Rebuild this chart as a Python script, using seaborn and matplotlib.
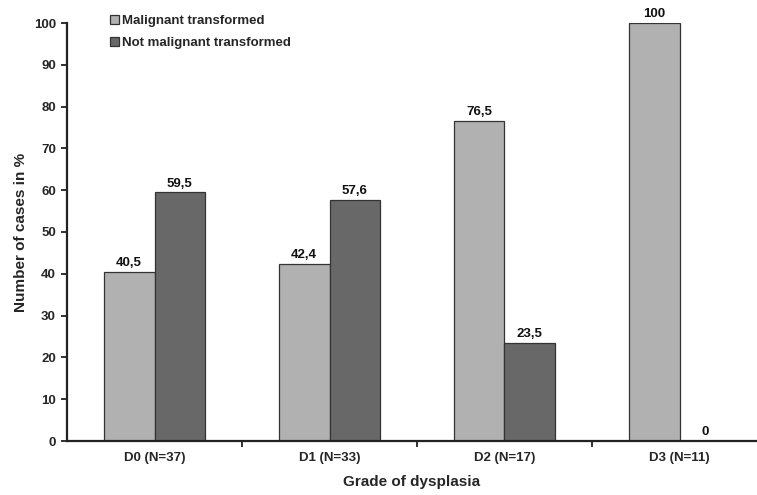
import matplotlib
matplotlib.use("Agg")
import matplotlib.pyplot as plt
import seaborn as sns
import pandas as pd
import numpy as np

categories = ["D0 (N=37)", "D1 (N=33)", "D2 (N=17)", "D3 (N=11)"]
malignant = [40.5, 42.4, 76.5, 100.0]
not_malignant = [59.5, 57.6, 23.5, 0.0]
series_names = ["Malignant transformed", "Not malignant transformed"]
y_ticks = list(range(0, 101, 10))

df = pd.DataFrame({
    "grade": categories * 2,
    "percent": malignant + not_malignant,
    "group": [series_names[0]] * 4 + [series_names[1]] * 4,
})

sns.set_style("white")
plt.rcParams["font.family"] = ["Liberation Sans", "DejaVu Sans"]
plt.rcParams["font.weight"] = "bold"

fig = plt.figure(figsize=(7.57, 4.95), dpi=100)
ax = fig.add_axes([67 / 757, 54 / 495, 690 / 757, 418 / 495])

palette = {series_names[0]: "#b1b1b1", series_names[1]: "#686868"}
sns.barplot(data=df, x="grade", y="percent", hue="group", palette=palette,
            width=0.58, edgecolor="#333333", linewidth=0.9, saturation=1,
            ax=ax, legend=True)

for cont in ax.containers:
    labels = [("%g" % v).replace(".", ",") for v in cont.datavalues]
    ax.bar_label(cont, labels=labels, padding=2, fontsize=9.5, fontweight="bold",
                 color="#111111")

ax.set_yticks(y_ticks)
ax.set_yticklabels([str(t) for t in y_ticks], fontsize=9.5, fontweight="bold")
ax.set_xticks(range(len(categories)))
ax.set_xticklabels(categories, fontsize=9.5, fontweight="bold")
# category separators between groups
ax.set_xticks(np.arange(0.5, len(categories) - 1, 1.0), minor=True)
ax.set_ylim(0, 100)
ax.set_xlim(-0.5, -0.5 + 690 / 175)
ax.tick_params(axis="x", which="major", bottom=True, length=0, pad=8)
ax.tick_params(axis="x", which="minor", bottom=True, length=4, width=1.3,
               direction="out", color="#222222")
ax.tick_params(axis="y", which="major", left=True, length=4, width=1.3,
               direction="out", color="#222222", pad=4)

for s in ["top", "right"]:
    ax.spines[s].set_visible(False)
for s in ["left", "bottom"]:
    ax.spines[s].set_linewidth(1.6)
    ax.spines[s].set_color("#222222")

ax.set_xlabel("Grade of dysplasia", fontsize=11, fontweight="bold", labelpad=8)
ax.set_ylabel("Number of cases in %", fontsize=11, fontweight="bold", labelpad=4)

leg = ax.legend(loc="upper left", bbox_to_anchor=(0.045, 1.048), frameon=False,
                handlelength=0.7, handleheight=0.7, handletextpad=0.2,
                labelspacing=0.75, prop={"weight": "bold", "size": 9.5})

fig.savefig("out.png", dpi=100)
